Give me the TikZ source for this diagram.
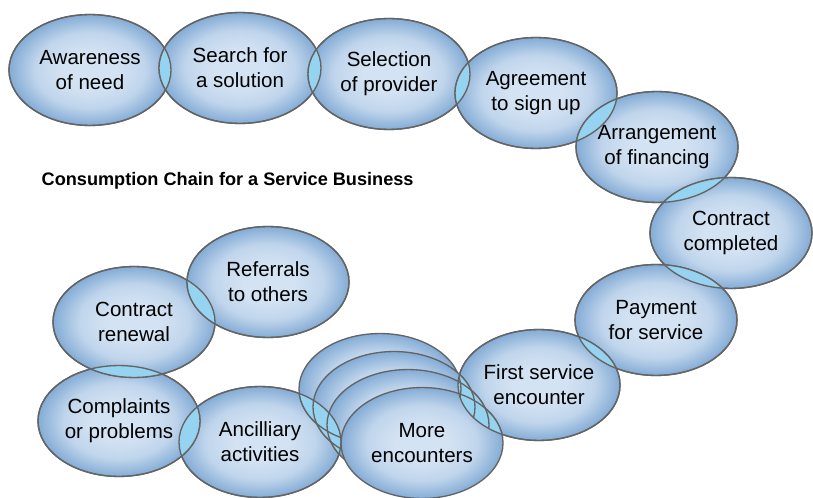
\documentclass[tikz,border=0pt]{standalone}
\usepackage{fontspec}
\setmainfont{Liberation Sans}
\usetikzlibrary{shapes.geometric}

\definecolor{bublight}{RGB}{212,227,243}
\definecolor{bubdark}{RGB}{132,172,214}
\definecolor{lenscol}{RGB}{150,211,241}
\definecolor{rimcol}{RGB}{100,100,100}

% light centre, darker rim (25bp = edge of the bounding box)
\pgfdeclareradialshading{bubshade}{\pgfpoint{0bp}{0bp}}{%
  color(0bp)=(bublight); color(8bp)=(bublight);
  color(17bp)=(bublight!75!bubdark); color(25bp)=(bubdark); color(50bp)=(bubdark)}

\newcommand\bubrx{60.75pt}
\newcommand\bubry{41.6pt}

% overlap of two bubbles, filled with a light cyan
\newcommand\lensfill[2]{%
  \begin{scope}
    \clip (#1.center) ellipse [x radius=\bubrx, y radius=\bubry];
    \fill[lenscol] (#2.center) ellipse [x radius=\bubrx, y radius=\bubry];
  \end{scope}}
\newcommand\rim[1]{\draw[rimline] (#1.center) ellipse [x radius=\bubrx, y radius=\bubry];}

\tikzset{
  bubble/.style={ellipse, draw=rimcol, line width=1pt, shading=bubshade,
    minimum width=121.5pt, minimum height=83.2pt, inner xsep=-14pt, inner ysep=0pt,
    align=center, font=\fontsize{15.4pt}{18.8pt}\selectfont},
  rimline/.style={draw=rimcol, line width=1pt},
  heading/.style={anchor=base west, font=\bfseries\fontsize{13.6pt}{16pt}\selectfont}
}

\begin{document}
\begin{tikzpicture}[x=0.75pt, y=-0.75pt]
  \useasboundingbox[fill=white] (0,0) rectangle (813,498);

  % the chain of steps
  \node[bubble] (aw)   at (90,70)   {Awareness\\of need};
  \node[bubble] (se)   at (240,68)  {Search for\\a solution};
  \node[bubble] (sel)  at (389,74)  {Selection\\of provider};
  \node[bubble] (agr)  at (536,93)  {Agreement\\to sign up};
  \node[bubble] (arr)  at (657,147) {Arrangement\\of financing};
  \node[bubble] (con)  at (731,233) {Contract\\completed};
  \node[bubble] (pay)  at (656,320) {Payment\\for service};
  \node[bubble] (fir)  at (539,385) {First service\\encounter};
  \node[bubble] (anc)  at (260,442) {Ancilliary\\activities};
  \node[bubble] (comp) at (119,421) {Complaints\\or problems};
  \node[bubble] (ren)  at (134,322) {Contract\\renewal};
  \node[bubble] (ref)  at (268,282) {Referrals\\to others};

  % stack of repeated encounters, back to front
  \node[bubble] (s1)  at (380,389) {};
  \node[bubble] (s2)  at (394,407) {};
  \node[bubble] (s3)  at (408,425) {};
  \node[bubble] (enc) at (422,443) {More\\encounters};

  % overlaps
  \lensfill{aw}{se}
  \lensfill{se}{sel}
  \lensfill{sel}{agr}
  \lensfill{agr}{arr}
  \lensfill{arr}{con}
  \lensfill{con}{pay}
  \lensfill{pay}{fir}
  \lensfill{anc}{comp}
  \lensfill{comp}{ren}
  \lensfill{ren}{ref}
  \foreach \s in {s1,s2,s3,enc} {
    \lensfill{fir}{\s}
    \lensfill{anc}{\s}
  }

  % outlines on top of the overlaps
  \foreach \b in {aw,se,sel,agr,arr,con,pay,fir,anc,comp,ren,ref} {\rim{\b}}
  \foreach \c in {fir,anc} {
    \begin{scope}
      \clip (\c.center) ellipse [x radius=\bubrx, y radius=\bubry];
      \foreach \s in {s1,s2,s3,enc} {\rim{\s}}
    \end{scope}
  }

  \node[heading] (title) at (37,186) {Consumption Chain for a Service Business};
\end{tikzpicture}
\end{document}
